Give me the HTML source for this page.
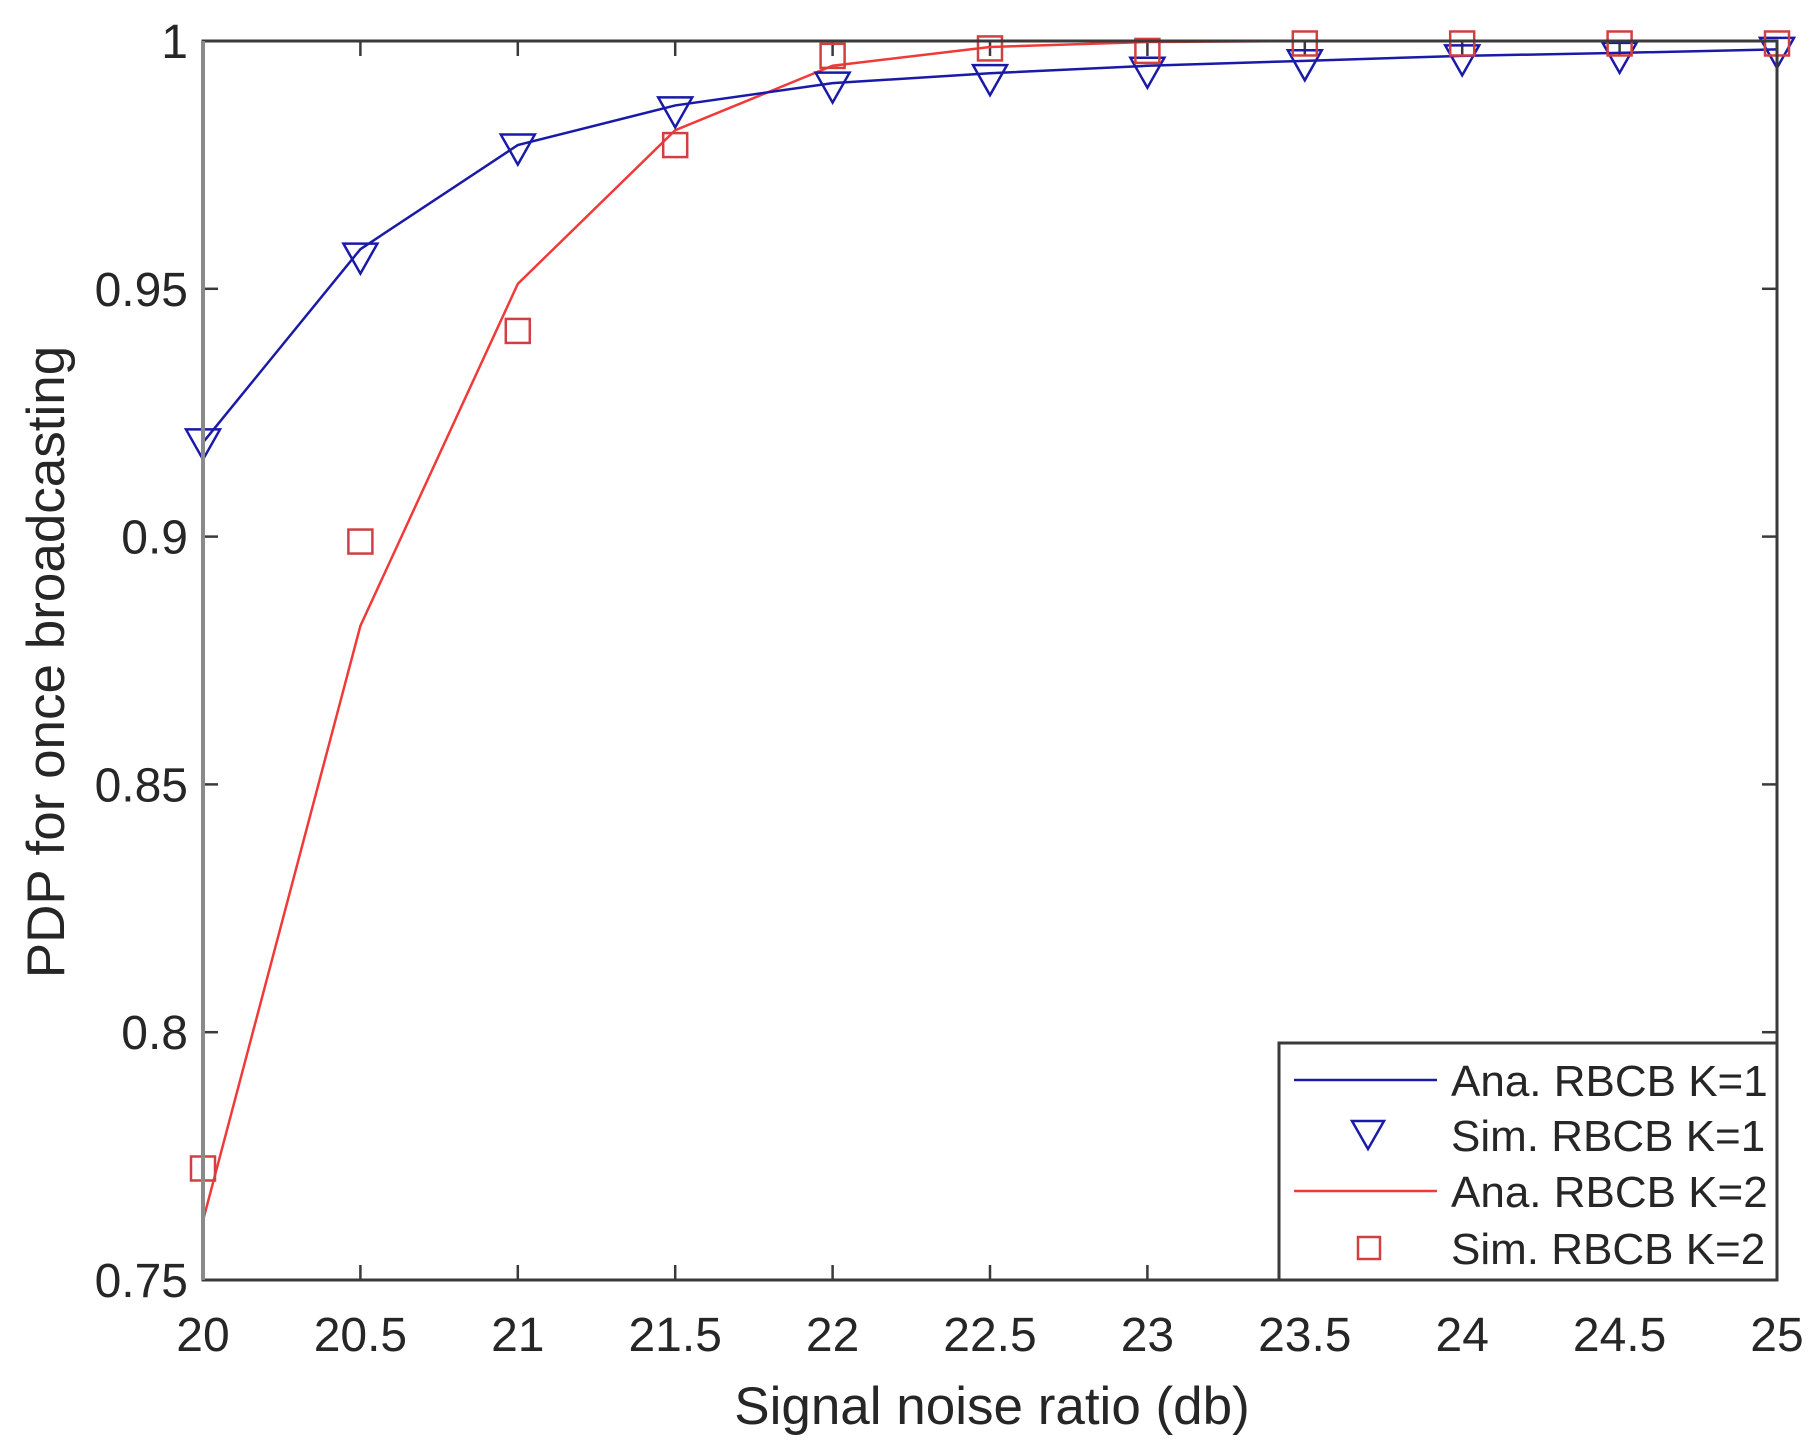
<!DOCTYPE html>
<html><head><meta charset="utf-8"><style>
html,body{margin:0;padding:0;background:#fff;}
svg{display:block;}
text{font-family:"Liberation Sans",sans-serif;fill:#262626;}
</style></head><body>
<svg id="s" width="1820" height="1446" viewBox="0 0 1820 1446" xmlns="http://www.w3.org/2000/svg">
<rect width="1820" height="1446" fill="#fff"/>
<g id="ticks"></g>
<g id="data"></g>
<rect x="203" y="41" width="1574" height="1239" fill="none" stroke="#3a3a3a" stroke-width="3"/>
<line x1="203" y1="41" x2="203" y2="1280" stroke="#8a8a8a" stroke-width="4"/>
<g id="labels" font-size="48"></g>
<text x="992" y="1424" font-size="53" text-anchor="middle">Signal noise ratio (db)</text>
<text transform="translate(64,662) rotate(-90)" font-size="53" text-anchor="middle">PDP for once broadcasting</text>
<rect x="1279" y="1043" width="498" height="237" fill="#fff" stroke="#3a3a3a" stroke-width="3"/>
<line x1="1294" y1="1080" x2="1437" y2="1080" stroke="#1a1aa8" stroke-width="2.5"/>
<polygon points="1352,1121 1384,1121 1368,1149" fill="none" stroke="#1a1aa8" stroke-width="2.5"/>
<line x1="1294" y1="1191" x2="1437" y2="1191" stroke="#f03a3a" stroke-width="2.5"/>
<rect x="1358" y="1237" width="22" height="22" fill="none" stroke="#d04040" stroke-width="2.5"/>
<g font-size="44">
<text x="1451" y="1096">Ana. RBCB K=1</text>
<text x="1451" y="1151">Sim. RBCB K=1</text>
<text x="1451" y="1207">Ana. RBCB K=2</text>
<text x="1451" y="1264">Sim. RBCB K=2</text>
</g>
</svg>
<script>
var NS="http://www.w3.org/2000/svg";
function X(v){return 203+(v-20)*314.8;}
function Y(v){return 41+(1-v)*4956;}
function el(p,t,a){var e=document.createElementNS(NS,t);for(var k in a)e.setAttribute(k,a[k]);document.getElementById(p).appendChild(e);return e;}
var xs=[20,20.5,21,21.5,22,22.5,23,23.5,24,24.5,25];
xs.forEach(function(x){var px=X(x);
 el("ticks","line",{x1:px,y1:1280,x2:px,y2:1265,stroke:"#3a3a3a","stroke-width":2.5});
 el("ticks","line",{x1:px,y1:41,x2:px,y2:56,stroke:"#3a3a3a","stroke-width":2.5});
 var t=el("labels","text",{x:px,y:1351,"text-anchor":"middle"});t.textContent=String(x);});
[0.75,0.8,0.85,0.9,0.95,1].forEach(function(y){var py=Y(y);
 el("ticks","line",{x1:203,y1:py,x2:218,y2:py,stroke:"#3a3a3a","stroke-width":2.5});
 el("ticks","line",{x1:1777,y1:py,x2:1762,y2:py,stroke:"#3a3a3a","stroke-width":2.5});
 var t=el("labels","text",{x:188,y:py+17,"text-anchor":"end"});t.textContent=(y==1?"1":String(y));});
var bl=[0.919,0.958,0.979,0.987,0.9915,0.9935,0.995,0.996,0.997,0.9976,0.9983];
var bm=[0.919,0.9565,0.9785,0.986,0.991,0.9925,0.994,0.9955,0.9965,0.997,0.998];
var rl=[0.762,0.882,0.951,0.982,0.995,0.9988,0.9998,1,1,1,1];
var rm=[0.7725,0.899,0.9415,0.979,0.997,0.9985,0.998,0.9995,0.9995,0.9995,0.9995];
function pts(a){return a.map(function(v,i){return X(xs[i])+","+Y(v);}).join(" ");}
el("data","polyline",{points:pts(rl),fill:"none",stroke:"#f03a3a","stroke-width":2.5});
el("data","polyline",{points:pts(bl),fill:"none",stroke:"#1a1aa8","stroke-width":2.5});
bm.forEach(function(v,i){var x=X(xs[i]),y=Y(v);
 el("data","polygon",{points:(x-17)+","+(y-13)+" "+(x+17)+","+(y-13)+" "+x+","+(y+17),fill:"none",stroke:"#1a1aa8","stroke-width":2.5});});
rm.forEach(function(v,i){var x=X(xs[i]),y=Y(v);
 el("data","rect",{x:x-12,y:y-12,width:24,height:24,fill:"none",stroke:"#d04040","stroke-width":2.5});});
</script>
</body></html>
